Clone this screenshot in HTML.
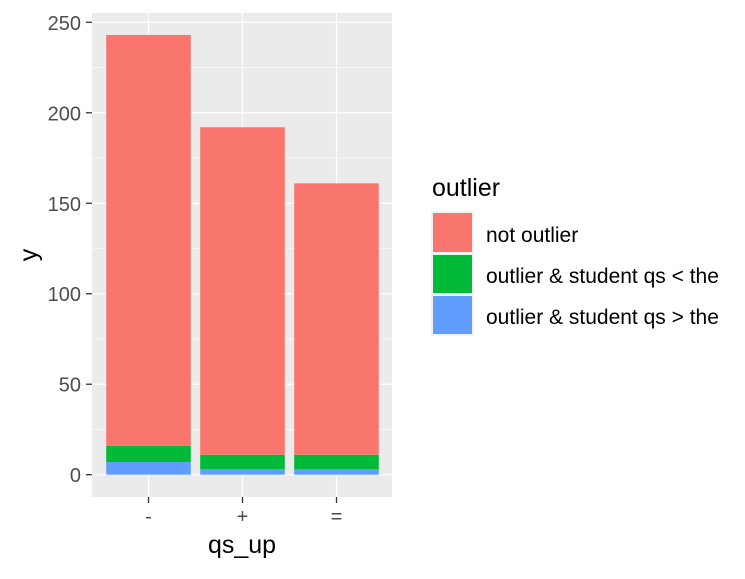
<!DOCTYPE html>
<html><head><meta charset="utf-8">
<style>
body{margin:0;background:#fff;}
svg text{font-family:"Liberation Sans",Arial,sans-serif;}
</style></head>
<body>
<svg id="chart" width="745" height="574" xmlns="http://www.w3.org/2000/svg">
<rect x="92" y="13" width="300" height="484" fill="#EBEBEB"/>
<g id="grid"></g>
<g id="bars"></g>
<g id="axes"></g>
<text x="0" y="0" transform="translate(37,255) rotate(-90)" text-anchor="middle" font-size="25" fill="#000">y</text>
<text x="242" y="553" text-anchor="middle" font-size="25" fill="#000">qs_up</text>
<g>
<text x="432" y="196" font-size="25" fill="#000">outlier</text>
<rect x="431" y="211" width="43" height="125" fill="#F2F2F2"/>
<rect x="433" y="213" width="39" height="39" fill="#F8766D"/>
<text x="486" y="242" font-size="21" fill="#000">not outlier</text>
<rect x="433" y="255" width="39" height="38" fill="#00BA38"/>
<text x="486" y="283" font-size="21" fill="#000">outlier &amp; student qs &lt; the</text>
<rect x="433" y="296" width="39" height="38" fill="#619CFF"/>
<text x="486" y="324" font-size="21" fill="#000">outlier &amp; student qs &gt; the</text>
</g>
</svg>
<script>
const categories = ["-", "+", "="];
const blueVals = [7, 3, 3];
const greenVals = [9, 8, 8];
const redVals = [227, 181, 150];
const yTicks = [0, 50, 100, 150, 200, 250];
const NS = "http://www.w3.org/2000/svg";
const y = v => 474.7 - v * (474.7 - 22.3) / 250;
const x = i => 148.5 + i * 94;
const bw = 84.6;
function mk(tag, attrs, parent){const e=document.createElementNS(NS,tag);for(const k in attrs)e.setAttribute(k,attrs[k]);parent.appendChild(e);return e;}
const grid=document.getElementById('grid'), bars=document.getElementById('bars'), axes=document.getElementById('axes');
for(let i=0;i<yTicks.length-1;i++){
  const m=(yTicks[i]+yTicks[i+1])/2;
  const l=mk('line',{x1:92,x2:392,y1:y(m),y2:y(m),stroke:'#fff','stroke-width':0.6},grid);
  
  
}
yTicks.forEach(t=>{
  const l=mk('line',{x1:92,x2:392,y1:y(t),y2:y(t),stroke:'#fff','stroke-width':1.2},grid);
  
  
  const tk=mk('line',{x1:86,x2:92,y1:y(t),y2:y(t),stroke:'#333','stroke-width':1.3},axes);
  
  
  const tx=mk('text',{x:81,y:y(t)+7.5,'text-anchor':'end','font-size':20,fill:'#4D4D4D'},axes);
  tx.textContent=t;
  
  
});
categories.forEach((c,i)=>{
  const l=mk('line',{x1:x(i),x2:x(i),y1:13,y2:497,stroke:'#fff','stroke-width':1.2},grid);
  
  
  const segs=[[blueVals[i],'#619CFF','bar-outlier-greater'],[greenVals[i],'#00BA38','bar-outlier-less'],[redVals[i],'#F8766D','bar-not-outlier']];
  let base=0;
  segs.forEach(s=>{
    const r=mk('rect',{x:x(i)-bw/2,y:y(base+s[0]),width:bw,height:y(base)-y(base+s[0]),fill:s[1]},bars);
    
    
    base+=s[0];
  });
  const tk=mk('line',{x1:x(i),x2:x(i),y1:497,y2:503,stroke:'#333','stroke-width':1.3},axes);
  
  
  const tx=mk('text',{x:x(i),y:523,'text-anchor':'middle','font-size':20,fill:'#4D4D4D'},axes);
  tx.textContent=c;
  
  
});
</script>
</body></html>
